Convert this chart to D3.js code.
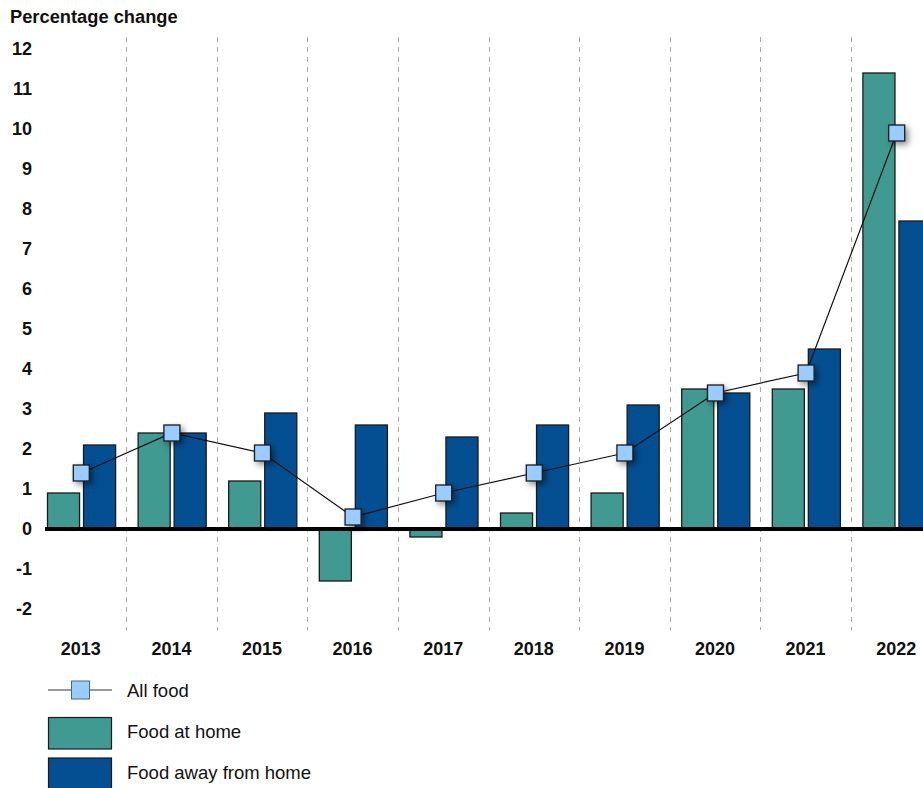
<!DOCTYPE html>
<html><head><meta charset="utf-8">
<script src="https://cdn.jsdelivr.net/npm/d3@7"></script>
<style>body{margin:0;background:#fff}svg{display:block;font-family:"Liberation Sans",Arial,sans-serif}</style>
</head><body>
<svg id="c" width="923" height="788"></svg>
<script>
const years = ["2013","2014","2015","2016","2017","2018","2019","2020","2021","2022"];
const allFood = [1.4,2.4,1.9,0.3,0.9,1.4,1.9,3.4,3.9,9.9];
const foodAtHome = [0.9,2.4,1.2,-1.3,-0.2,0.4,0.9,3.5,3.5,11.4];
const foodAway = [2.1,2.4,2.9,2.6,2.3,2.6,3.1,3.4,4.5,7.7];
const yTicks = [12,11,10,9,8,7,6,5,4,3,2,1,0,-1,-2];
const seriesNames = ["Food at home","Food away from home"];
const lineName = "All food";

const colors = {"Food at home":"#409A91","Food away from home":"#044F92"};
const svg = d3.select("#c");

const defs = svg.append("defs");
const f = defs.append("filter").attr("id","sh").attr("x","-100%").attr("y","-100%").attr("width","300%").attr("height","300%");
f.append("feDropShadow").attr("dx",3).attr("dy",3).attr("stdDeviation",3).attr("flood-color","#000").attr("flood-opacity",0.45);

const x = d3.scaleBand().domain(years).range([35.5, 941.5]);
const bw = x.bandwidth();
const x1 = d3.scaleBand().domain(seriesNames).range([12, bw - 10.5]).paddingInner(0.11);
const y = d3.scaleLinear().domain([0,12]).range([529,49]);

// title
svg.append("text").attr("x",10).attr("y",23).attr("font-size",18.3).attr("font-weight","bold").attr("fill","#111").text("Percentage change");

// y tick labels
svg.append("g").selectAll("text").data(yTicks).join("text")
  .attr("x",32).attr("y",d=>y(d)).attr("dy","0.36em").attr("text-anchor","end")
  .attr("font-size",18).attr("font-weight","bold").attr("fill","#111").text(d=>d);

// dashed separators
svg.append("g").selectAll("line").data(years.slice(1)).join("line")
  .attr("x1",d=>Math.round(x(d))+0.5).attr("x2",d=>Math.round(x(d))+0.5)
  .attr("y1",37).attr("y2",630).attr("stroke","#aaa").attr("stroke-width",1).attr("stroke-dasharray","5,5");

// bars
const rows = years.map((yr,i)=>({yr, vals:[{s:seriesNames[0],v:foodAtHome[i]},{s:seriesNames[1],v:foodAway[i]}]}));
const g = svg.append("g").selectAll("g").data(rows).join("g").attr("transform",d=>`translate(${x(d.yr)},0)`);
g.selectAll("rect").data(d=>d.vals).join("rect")
  .attr("x",d=>x1(d.s)).attr("width",x1.bandwidth())
  .attr("y",d=>y(Math.max(0,d.v))).attr("height",d=>Math.abs(y(d.v)-y(0)))
  .attr("fill",d=>colors[d.s]).attr("stroke","#1a1a1a").attr("stroke-width",1.3);

// zero line
svg.append("line").attr("x1",45).attr("x2",923).attr("y1",y(0)).attr("y2",y(0)).attr("stroke","#000").attr("stroke-width",4);

// year labels
svg.append("g").selectAll("text").data(years).join("text")
  .attr("x",d=>x(d)+bw/2).attr("y",649).attr("dy","0.36em").attr("text-anchor","middle")
  .attr("font-size",18).attr("font-weight","bold").attr("fill","#111").text(d=>d);

// all food line
const pts = years.map((yr,i)=>[x(yr)+bw/2+0.5, y(allFood[i])]);
svg.append("path").attr("d",d3.line()(pts)).attr("fill","none").attr("stroke","#111").attr("stroke-width",1.2);
const ms = 16;
svg.append("g").selectAll("rect").data(pts).join("rect")
  .attr("x",d=>d[0]-ms/2).attr("y",d=>d[1]-ms/2).attr("width",ms).attr("height",ms)
  .attr("fill","#99CCFF").attr("stroke","#1a1a1a").attr("stroke-width",1.3).attr("filter","url(#sh)");

// legend
const lg = svg.append("g");
lg.append("line").attr("x1",48).attr("x2",112).attr("y1",690).attr("y2",690).attr("stroke","#333").attr("stroke-width",1.2);
lg.append("rect").attr("x",71.5).attr("y",681).attr("width",18).attr("height",18).attr("fill","#99CCFF").attr("stroke","#4d6680").attr("stroke-width",1);
lg.append("text").attr("x",127).attr("y",690).attr("dy","0.36em").attr("font-size",18.5).attr("fill","#111").text(lineName);
seriesNames.forEach((s,i)=>{
  lg.append("rect").attr("x",48.5).attr("y",717.5+i*40.5).attr("width",63).attr("height",31.5).attr("fill",colors[s]).attr("stroke","#1a1a1a").attr("stroke-width",1.2);
  lg.append("text").attr("x",127).attr("y",731+i*41).attr("dy","0.36em").attr("font-size",18.5).attr("fill","#111").text(s);
});
</script>
</body></html>
